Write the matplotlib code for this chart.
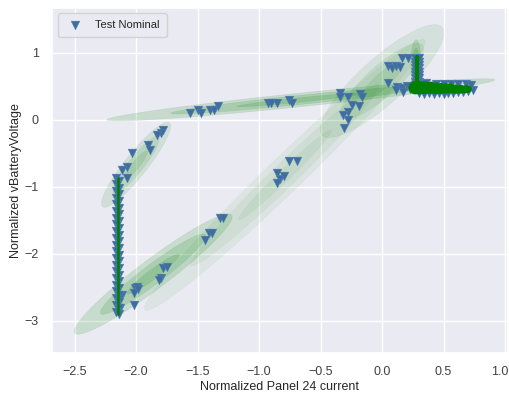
import numpy as np
import matplotlib
matplotlib.use("Agg")
import matplotlib.pyplot as plt
import matplotlib.transforms as mtransforms
import seaborn as sns
from matplotlib.patches import Polygon

sns.set_theme(style="darkgrid")
plt.rcParams["font.family"] = ["Liberation Sans", "DejaVu Sans"]

# ---- Test Nominal points (normalized current, normalized voltage) ----
arc_x = [-1.78, -1.80, -1.83, -1.90, -1.89, -2.03, -2.07, -2.11, -2.07, -2.15]
arc_y = [-0.15, -0.19, -0.22, -0.37, -0.45, -0.49, -0.70, -0.75, -0.87, -0.91]

band_x = [-1.56, -1.50, -1.47, -1.40, -1.37, -1.33, -0.93, -0.90, -0.85, -0.76, -0.73]
band_y = [0.10, 0.15, 0.10, 0.15, 0.15, 0.21, 0.25, 0.25, 0.25, 0.30, 0.25]

mid_x = [-0.34, -0.34, -0.28, -0.18, -0.16, -0.24, -0.19, -0.28, -0.32, -0.28, -0.31]
mid_y = [0.40, 0.34, 0.34, 0.39, 0.34, 0.22, 0.21, 0.12, 0.07, 0.00, -0.12]

up_x = [0.05, 0.08, 0.11, 0.15, 0.16, 0.21, 0.05, 0.12, 0.11, 0.16, 0.20, 0.17, 0.23]
up_y = [0.81, 0.78, 0.81, 0.79, 0.93, 0.93, 0.55, 0.49, 0.45, 0.48, 0.51, 0.42, 0.46]

vert_x = [0.27, 0.30, 0.27, 0.30, 0.27, 0.30, 0.27, 0.30, 0.27, 0.30, 0.27, 0.30, 0.27, 0.30, 0.27, 0.30, 0.27, 0.30]
vert_y = [0.52, 0.52, 0.57, 0.57, 0.62, 0.62, 0.67, 0.67, 0.72, 0.72, 0.77, 0.77, 0.82, 0.82, 0.87, 0.87, 0.92, 0.92]

blob_x = [0.30, 0.34, 0.38, 0.42, 0.46, 0.50, 0.54, 0.58, 0.62, 0.66, 0.70, 0.74,
          0.36, 0.44, 0.50, 0.56, 0.62, 0.68, 0.72]
blob_y = [0.40, 0.39, 0.40, 0.39, 0.40, 0.39, 0.40, 0.40, 0.41, 0.42, 0.43, 0.45,
          0.55, 0.54, 0.53, 0.54, 0.54, 0.53, 0.52]

diag_x = [-0.76, -0.69, -0.85, -0.83, -0.85, -0.80, -1.32, -1.29, -1.41, -1.38, -1.44]
diag_y = [-0.61, -0.61, -0.79, -0.88, -0.94, -0.84, -1.46, -1.46, -1.69, -1.69, -1.79]

low_x = [-1.78, -1.75, -1.80, -1.81, -2.01, -1.99, -2.02, -2.02, -2.11, -2.13, -2.13, -1.98]
low_y = [-2.21, -2.19, -2.36, -2.39, -2.51, -2.49, -2.58, -2.76, -2.61, -2.64, -2.81, -2.52]

col_x = [-2.165, -2.135, -2.165, -2.135, -2.165, -2.135, -2.165, -2.135, -2.165, -2.135,
         -2.165, -2.135, -2.165, -2.135, -2.165, -2.135, -2.165, -2.135, -2.165, -2.135,
         -2.165, -2.135, -2.165, -2.135, -2.165, -2.135, -2.165, -2.135, -2.165, -2.135,
         -2.165, -2.135, -2.165, -2.135, -2.165, -2.135, -2.165, -2.135, -2.165, -2.135,
         -2.165, -2.135]
col_y = [-0.86, -0.91, -0.96, -1.01, -1.06, -1.11, -1.16, -1.21, -1.26, -1.31,
         -1.36, -1.41, -1.46, -1.51, -1.56, -1.61, -1.66, -1.71, -1.76, -1.81,
         -1.86, -1.91, -1.96, -2.01, -2.06, -2.11, -2.16, -2.21, -2.26, -2.31,
         -2.36, -2.41, -2.46, -2.51, -2.56, -2.61, -2.66, -2.71, -2.76, -2.81,
         -2.86, -2.90]

# ---- dense green track ----
green_col_x = [-2.148, -2.148]
green_col_y = [-0.86, -2.90]
green_vert_x = [0.285, 0.285]
green_vert_y = [0.48, 0.94]
green_blob_x = [0.27, 0.30, 0.33, 0.36, 0.40, 0.44, 0.48, 0.52, 0.56, 0.60, 0.64, 0.68, 0.70]
green_blob_y = [0.48, 0.48, 0.48, 0.48, 0.48, 0.47, 0.47, 0.47, 0.47, 0.46, 0.46, 0.46, 0.46]
green_blob_s = [90, 90, 85, 80, 75, 70, 62, 55, 50, 45, 40, 34, 28]

# ---- mixture component ellipses: centre and half major-axis vector ----
ell_cx = [-0.66, -2.00, -1.86, -0.79, 0.00, 0.276]
ell_cy = [0.30, -0.67, -2.30, -0.82, 0.58, 0.81]
ell_dx = [1.577, 0.272, 0.638, 1.138, 0.488, 0.0]
ell_dy = [0.299, 0.627, 0.881, 2.015, 0.806, 0.388]
ell_ratio = [0.035, 0.21, 0.15, 0.09, 0.28, 0.20]
ell_alpha = [0.15, 0.11, 0.14, 0.06, 0.09, 0.14]
ell_scales = [1.0, 0.67, 0.33]

xlim = (-2.683, 1.024)
ylim = (-3.478, 1.672)

fig = plt.figure(figsize=(5.1, 3.93), dpi=100)
ax = fig.add_axes([0.102, 0.1018, 0.894, 0.878])
ax.set_xlim(*xlim)
ax.set_ylim(*ylim)

pos = ax.get_position()
sx = pos.width * 510 / (xlim[1] - xlim[0])
sy = pos.height * 393 / (ylim[1] - ylim[0])
t = np.linspace(0, 2 * np.pi, 120)
for cx, cy, dx, dy, r, a in zip(ell_cx, ell_cy, ell_dx, ell_dy, ell_ratio, ell_alpha):
    px_dx, px_dy = dx * sx, dy * sy
    perp_x, perp_y = -px_dy * r / sx, px_dx * r / sy
    for sc in ell_scales:
        xs = cx + sc * (np.cos(t) * dx + np.sin(t) * perp_x)
        ys = cy + sc * (np.cos(t) * dy + np.sin(t) * perp_y)
        ax.add_patch(Polygon(np.column_stack([xs, ys]), closed=True,
                             facecolor="green", edgecolor="none",
                             alpha=a, zorder=1))
        ax.add_patch(Polygon(np.column_stack([xs, ys]), closed=True,
                             fill=False, edgecolor="green",
                             alpha=a * 0.6, linewidth=0.5, zorder=1))

all_x = arc_x + band_x + mid_x + up_x + vert_x + blob_x + diag_x + low_x + col_x
all_y = arc_y + band_y + mid_y + up_y + vert_y + blob_y + diag_y + low_y + col_y
ax.scatter(all_x, all_y, marker="v", s=40, color="#3E6D9F",
           edgecolors="#5a85b5", linewidths=0.3, zorder=3, label="Test Nominal")

ax.plot(green_col_x, green_col_y, color="green", lw=1.8, zorder=4)
ax.plot(green_vert_x, green_vert_y, color="green", lw=3.0, zorder=4)
ax.scatter(green_blob_x, green_blob_y, s=green_blob_s, color="green",
           edgecolors="none", zorder=4)

ax.set_xticks([-2.5, -2.0, -1.5, -1.0, -0.5, 0.0, 0.5, 1.0])
ax.set_yticks([-3, -2, -1, 0, 1])
ax.tick_params(labelsize=9, colors="#404040")
ax.set_xlabel("Normalized Panel 24 current", fontsize=9, color="#262626", labelpad=2)
ax.set_ylabel("Normalized vBatteryVoltage", fontsize=9, color="#262626", labelpad=2)
ax.legend(loc="upper left", fontsize=8, borderpad=0.6)

last = ax.get_xticklabels()[-1]
last.set_transform(last.get_transform() +
                   mtransforms.ScaledTranslation(-4 / 72, 0, fig.dpi_scale_trans))

fig.savefig("out.png", dpi=100)
